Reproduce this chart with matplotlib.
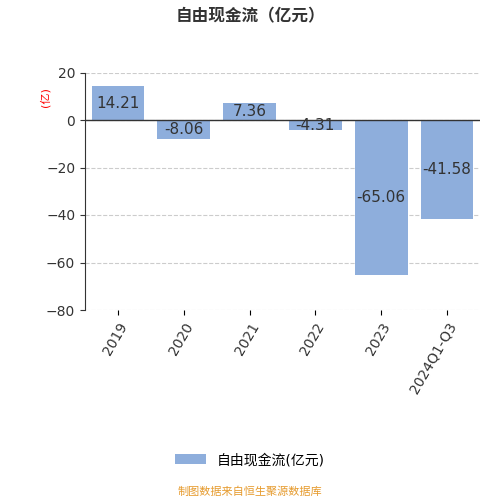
import matplotlib
matplotlib.use("Agg")
import matplotlib.pyplot as plt

plt.rcParams['font.family'] = ['DejaVu Sans', 'Noto Sans CJK SC']

categories = ["2019", "2020", "2021", "2022", "2023", "2024Q1-Q3"]
values = [14.21, -8.06, 7.36, -4.31, -65.06, -41.58]
labels = ["14.21", "-8.06", "7.36", "-4.31", "-65.06", "-41.58"]

fig = plt.figure(figsize=(5, 5), dpi=100)
ax = fig.add_axes([0.17, 0.38, 0.79, 0.475])
color = "#8eaedc"
x = range(len(categories))
ax.bar(x, values, width=0.8, color=color, label="自由现金流(亿元)", zorder=2)
for i, (v, t) in enumerate(zip(values, labels)):
    ax.text(i, v / 2, t, ha="center", va="center", fontsize=11, color="#333333", zorder=3)

ax.set_ylim(-80, 20)
ax.set_yticks([-80, -60, -40, -20, 0, 20])
ax.set_xlim(-0.5, len(categories) - 0.5)
ax.set_xticks(list(x))
ax.set_xticklabels(categories, rotation=60, ha="right", rotation_mode="anchor", fontsize=10, color="#333333")
ax.tick_params(axis="y", labelsize=10, colors="#333333")
ax.yaxis.grid(True, linestyle="--", color="#cccccc", zorder=0)
ax.axhline(0, color="#333333", linewidth=1, zorder=3)
for s in ["top", "right", "bottom"]:
    ax.spines[s].set_visible(False)
ax.spines["left"].set_color("#333333")

fig.text(0.09, 0.805, "(亿)", color="red", fontsize=8, rotation=90, ha="center", va="center")
fig.text(0.5, 0.968, "自由现金流（亿元）", fontsize=12, fontweight="bold", ha="center", va="center", color="#333333")
fig.legend(loc="center", bbox_to_anchor=(0.5, 0.08), frameon=False, fontsize=10, handlelength=2.2)
fig.text(0.5, 0.016, "制图数据来自恒生聚源数据库", color="#e69b2e", fontsize=8, ha="center", va="center")

fig.savefig("out.png", dpi=100)
